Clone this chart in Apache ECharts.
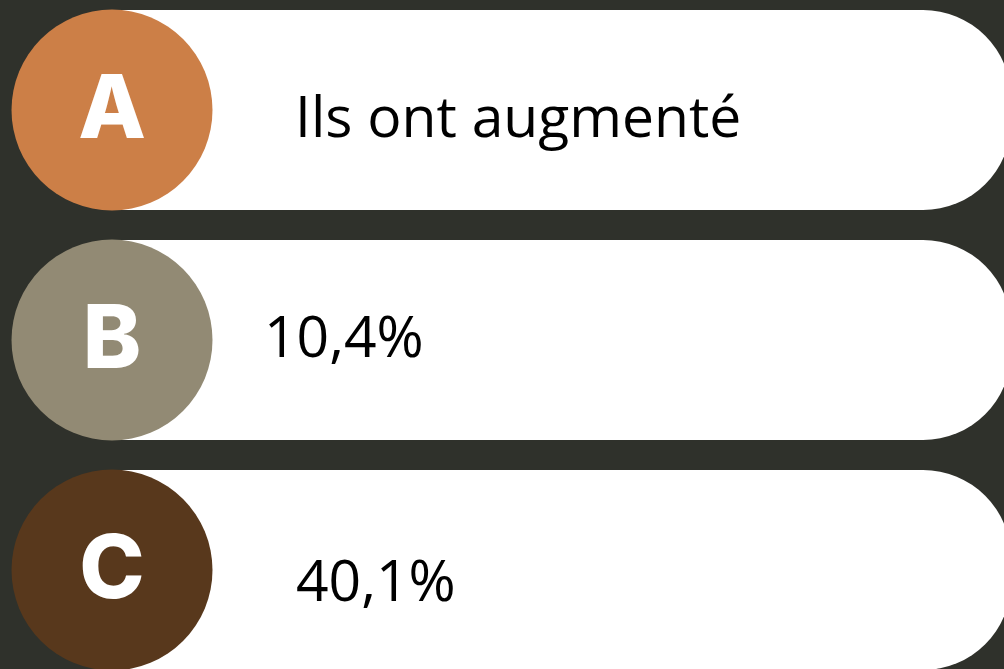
<!DOCTYPE html>
<html>
<head>
<meta charset="utf-8">
<script src="https://cdn.jsdelivr.net/npm/echarts@6/dist/echarts.min.js"></script>
<style>
  html, body { margin: 0; padding: 0; background: #2f312b; }
  #quiz { width: 1004px; height: 669px; }
</style>
</head>
<body>
<div id="quiz"></div>
<script>
// options du quiz
const letters = ['A', 'B', 'C']
const answers = ['Ils ont augmenté', '10,4%', '40,1%']
const barValues = [1, 1, 1]
const circleColors = ['#cc7f47', '#928a74', '#58381c']

// réglages de mise en page (pas des données)
const textLeft = [295, 264, 296]
const textShiftY = [11, 1, 15]
const axisLeft = 112

const chart = echarts.init(document.getElementById('quiz'))

const option = {
  backgroundColor: '#2f312b',
  animation: false,
  grid: {
    left: axisLeft,
    width: 899,
    top: -5,
    height: 690,
    outerBoundsMode: 'none'
  },
  xAxis: {
    type: 'value',
    min: 0,
    max: 1,
    show: false
  },
  yAxis: {
    type: 'category',
    data: letters,
    inverse: true,
    show: false
  },
  series: [
    {
      type: 'bar',
      barWidth: 200,
      data: barValues.map((v, i) => ({
        value: v,
        label: {
          show: true,
          formatter: answers[i],
          position: [textLeft[i] - axisLeft, 100 + textShiftY[i]],
          align: 'left',
          verticalAlign: 'middle',
          color: '#000',
          fontFamily: 'Open Sans',
          fontSize: 57
        }
      })),
      itemStyle: {
        color: '#ffffff',
        borderRadius: [0, 88, 88, 0]
      },
      silent: true
    },
    {
      type: 'scatter',
      symbol: 'circle',
      symbolSize: 201,
      data: letters.map((l, i) => ({
        value: [0, l],
        itemStyle: { color: circleColors[i], opacity: 1 }
      })),
      label: {
        show: true,
        position: 'inside',
        formatter: p => p.value[1],
        color: '#fff',
        fontFamily: 'Inter',
        fontWeight: 800,
        fontSize: 88,
        offset: [0, 2]
      },
      silent: true,
      z: 3
    }
  ]
}
chart.setOption(option)
</script>
</body>
</html>
